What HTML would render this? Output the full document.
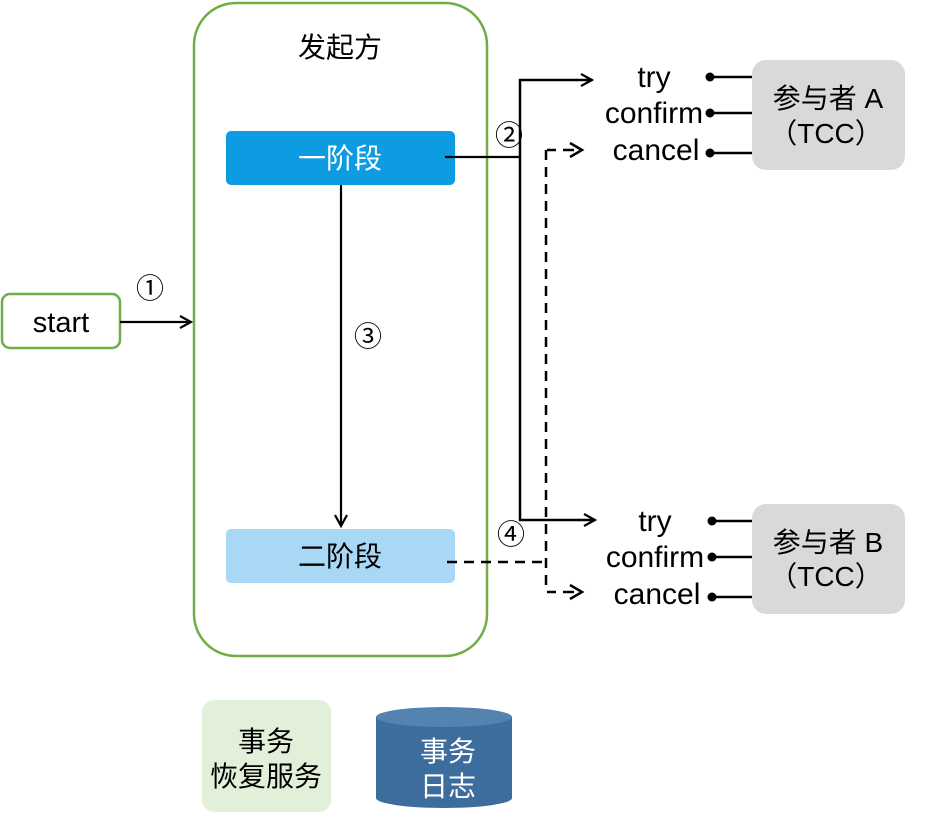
<!DOCTYPE html>
<html><head><meta charset="utf-8"><style>
body{margin:0;width:942px;height:822px;background:#fff;overflow:hidden}
svg text{font-family:"Liberation Sans","Noto Sans CJK SC",sans-serif}
</style></head><body>
<svg width="942" height="822" viewBox="0 0 942 822" xmlns="http://www.w3.org/2000/svg">
<defs>
<marker id="a" markerWidth="14" markerHeight="14" refX="12" refY="7" orient="auto" markerUnits="userSpaceOnUse"><path d="M1,1 L12,7 L1,13" fill="none" stroke="#000" stroke-width="2.2"/></marker>
</defs>
<rect x="194" y="3" width="293" height="653" rx="42" fill="none" stroke="#70ad47" stroke-width="2.5"/>
<text x="340" y="57" font-size="28" text-anchor="middle">发起方</text>
<rect x="226" y="131" width="229" height="54" rx="5" fill="#0d9ce2"/>
<text x="340" y="168" font-size="28" fill="#fff" text-anchor="middle">一阶段</text>
<rect x="226" y="529" width="229" height="54" rx="5" fill="#a9d8f6"/>
<text x="340" y="566" font-size="28" text-anchor="middle">二阶段</text>
<rect x="2" y="294" width="118" height="54" rx="8" fill="#fff" stroke="#70ad47" stroke-width="2.5"/>
<text x="61" y="332" font-size="29" text-anchor="middle">start</text>
<line x1="120" y1="322" x2="191" y2="322" stroke="#000" stroke-width="2.2" marker-end="url(#a)"/>
<text x="150" y="298" font-size="28" text-anchor="middle">①</text>
<line x1="341" y1="185" x2="341" y2="526" stroke="#000" stroke-width="2.2" marker-end="url(#a)"/>
<text x="368" y="346" font-size="28" text-anchor="middle">③</text>
<polyline points="445,157 520,157" fill="none" stroke="#000" stroke-width="2.2"/>
<line x1="520" y1="79" x2="520" y2="521" stroke="#000" stroke-width="2.5"/>
<line x1="519" y1="80" x2="592" y2="80" stroke="#000" stroke-width="2.5" marker-end="url(#a)"/>
<line x1="519" y1="520" x2="595" y2="520" stroke="#000" stroke-width="2.5" marker-end="url(#a)"/>
<text x="509" y="145" font-size="28" text-anchor="middle">②</text>
<text x="511" y="544" font-size="28" text-anchor="middle">④</text>
<g stroke="#000" stroke-width="2.5" stroke-dasharray="10,7" fill="none">
<polyline points="447,562 546,562"/>
<line x1="546" y1="150" x2="546" y2="592"/>
</g>
<g stroke="#000" stroke-width="2.5" fill="none">
<line x1="547" y1="150" x2="556" y2="150"/><line x1="563" y1="150" x2="574" y2="150"/>
<line x1="547" y1="592" x2="556" y2="592"/><line x1="563" y1="592" x2="574" y2="592"/>
<path d="M570,143 L582,150 L570,157 M570,585 L582,592 L570,599"/>
</g>
<g font-size="30" text-anchor="middle">
<text x="654" y="87">try</text><text x="654" y="123">confirm</text><text x="656" y="160">cancel</text>
<text x="655" y="531">try</text><text x="655" y="567">confirm</text><text x="657" y="604">cancel</text>
</g>
<g stroke="#000" stroke-width="2.5">
<line x1="710" y1="77" x2="752" y2="77"/><line x1="710" y1="113" x2="752" y2="113"/><line x1="710" y1="153" x2="752" y2="153"/>
<line x1="712" y1="521" x2="752" y2="521"/><line x1="712" y1="557" x2="752" y2="557"/><line x1="712" y1="597" x2="752" y2="597"/>
</g>
<g fill="#000">
<circle cx="710" cy="77" r="4.5"/><circle cx="710" cy="113" r="4.5"/><circle cx="710" cy="153" r="4.5"/>
<circle cx="712" cy="521" r="4.5"/><circle cx="712" cy="557" r="4.5"/><circle cx="712" cy="597" r="4.5"/>
</g>
<rect x="752" y="60" width="153" height="110" rx="14" fill="#d9d9d9"/>
<text x="828" y="108" font-size="28" text-anchor="middle">参与者 A</text>
<text x="826" y="143" font-size="28" text-anchor="middle">（TCC）</text>
<rect x="752" y="504" width="153" height="110" rx="14" fill="#d9d9d9"/>
<text x="828" y="552" font-size="28" text-anchor="middle">参与者 B</text>
<text x="826" y="586" font-size="28" text-anchor="middle">（TCC）</text>
<rect x="202" y="700" width="129" height="112" rx="12" fill="#e2efd9"/>
<text x="266" y="751" font-size="28" text-anchor="middle">事务</text>
<text x="266" y="786" font-size="28" text-anchor="middle">恢复服务</text>
<path d="M376,717 L376,798 A68,10 0 0 0 512,798 L512,717" fill="#3d6d9c"/>
<ellipse cx="444" cy="717" rx="68" ry="10" fill="#5583b0"/>
<text x="448" y="761" font-size="28" fill="#fff" text-anchor="middle">事务</text>
<text x="448" y="796" font-size="28" fill="#fff" text-anchor="middle">日志</text>
</svg>
</body></html>
